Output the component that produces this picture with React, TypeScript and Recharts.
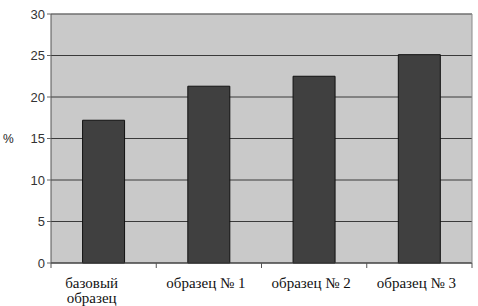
import { BarChart, Bar, XAxis, YAxis, CartesianGrid, ReferenceLine } from 'recharts';

const categories = ['базовый\nобразец', 'образец № 1', 'образец № 2', 'образец № 3'];
const values = [17.2, 21.3, 22.5, 25.1];
const yTicks = [0, 5, 10, 15, 20, 25, 30];

const data = categories.map((name, i) => ({ name, value: values[i] }));

const serif = 'Liberation Serif, Times New Roman, serif';
const sans = 'Liberation Sans, Arial, sans-serif';

const CategoryTick = ({ x, y, payload, index, visibleTicksCount }: any) => {
  const lines = String(payload.value).split('\n');
  const half = payload.offset || 0;
  // Excel shifts the wrapped label block a bit to the left
  const cx = lines.length > 1 ? x - 12 : x - 3;
  const isLast = index === visibleTicksCount - 1;
  return (
    <g>
      {/* tick marks sit on the category boundaries */}
      <line x1={x - half} x2={x - half} y1={y - 8} y2={y - 3} stroke="#555" />
      {isLast && <line x1={x + half} x2={x + half} y1={y - 8} y2={y - 3} stroke="#555" />}
      {lines.map((line, i) => (
        <text
          key={i}
          x={cx}
          y={y + 17 + i * 15}
          textAnchor="middle"
          fontFamily={serif}
          fontSize={15}
          fill="#111"
        >
          {line}
        </text>
      ))}
    </g>
  );
};

export default function App() {
  return (
    <div style={{ position: 'absolute', left: 0, top: 0, width: 478, height: 306, background: '#fff' }}>
      <BarChart
        width={478}
        height={306}
        data={data}
        margin={{ top: 14, right: 3, left: 0, bottom: 0 }}
        barCategoryGap="30%"
      >
        <CartesianGrid
          vertical={false}
          fill="#c9c9c9"
          stroke="#3a3a3a"
          strokeWidth={1}
        />
        <ReferenceLine y={30} stroke="#8a8a8a" />
        <XAxis
          dataKey="name"
          height={43}
          interval={0}
          tick={(p: any) => <CategoryTick {...p} />}
          tickLine={false}
          axisLine={{ stroke: '#444' }}
        />
        <YAxis
          width={51}
          domain={[0, 30]}
          ticks={yTicks}
          interval={0}
          tick={{ fontSize: 13, fill: '#333', fontFamily: sans }}
          tickLine={{ stroke: '#666' }}
          tickSize={4}
          axisLine={{ stroke: '#555' }}
          label={{
            value: '%',
            position: 'insideLeft',
            offset: 3,
            style: { fontSize: 12, fill: '#222', fontFamily: sans },
          }}
        />
        <YAxis
          yAxisId="right"
          orientation="right"
          width={3}
          tick={false}
          tickLine={false}
          axisLine={{ stroke: '#8a8a8a' }}
        />
        <Bar dataKey="value" fill="#404040" stroke="#111" strokeWidth={1} isAnimationActive={false} />
      </BarChart>
    </div>
  );
}
